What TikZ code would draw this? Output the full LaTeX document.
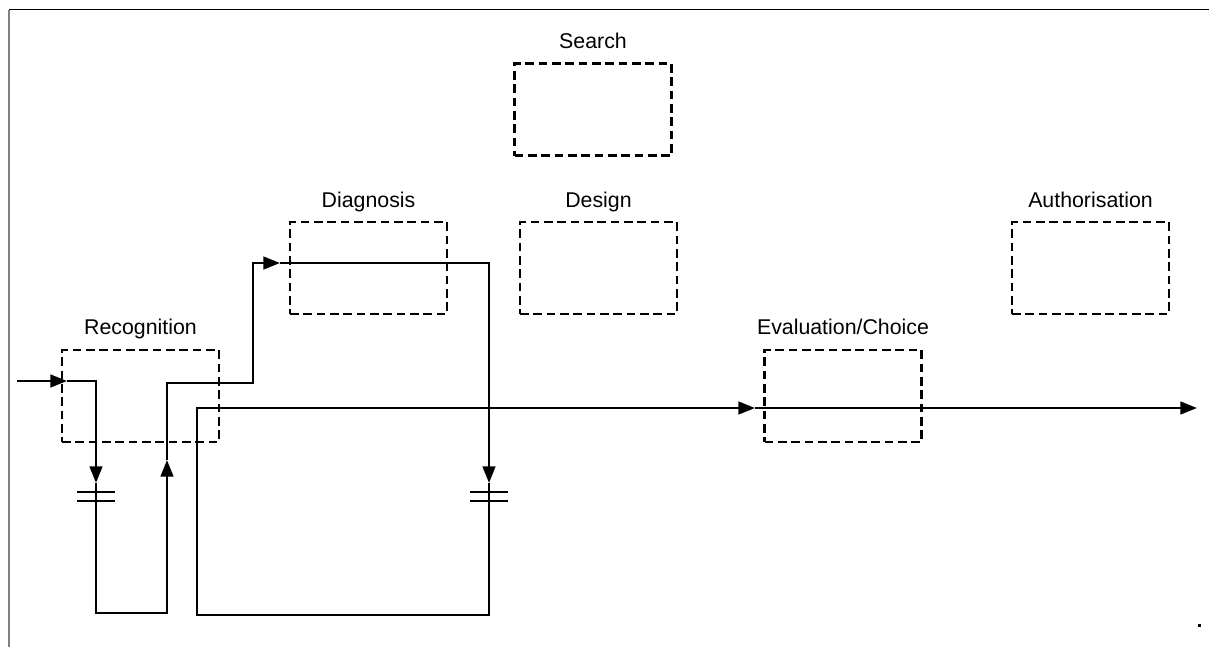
\documentclass[tikz,border=0pt]{standalone}
\usepackage{fontspec}
\setmainfont{Liberation Sans}
\usetikzlibrary{arrows.meta}

\tikzset{every picture/.style={line width=1.9pt}}
\tikzset{
  stage/.style={draw, dash pattern=on 6.5pt off 3.5pt, minimum width=117.75pt, minimum height=69pt, inner sep=0pt},
  stagelab/.style={anchor=base, inner sep=0pt, font=\fontsize{16}{19}\selectfont},
  flow/.style={-{Triangle[length=12.5pt,width=9.5pt]}}
}

\begin{document}
\begin{tikzpicture}[x=0.75pt,y=0.75pt,yscale=-1,xscale=1]
\useasboundingbox (0,0) rectangle (1209,647);

%Frame
\draw [line width=1.1pt] (9,9.5) -- (1209,9.5) ;
\draw [line width=1.1pt, gray] (9,9.5) -- (9,647) ;

%Shape: stage boxes
\node [stage] (recog) at (140.5,396) {};
\node [stage] (diag) at (368.5,268) {};
\node [stage] (search) at (593,109.5) {};
\node [stage] (design) at (598.5,268) {};
\node [stage] (evalch) at (843,396) {};
\node [stage] (auth) at (1090.5,268) {};

% Text Node
\node [stagelab] (recoglab) at (140.5,334) {Recognition};
% Text Node
\node [stagelab] (diaglab) at (368.5,207) {Diagnosis};
% Text Node
\node [stagelab] (searchlab) at (593,48) {Search};
% Text Node
\node [stagelab] (designlab) at (598.5,207) {Design};
% Text Node
\node [stagelab] (evalchlab) at (843,334) {Evaluation/Choice};
% Text Node
\node [stagelab] (authlab) at (1090.5,207) {Authorisation};

%Route points
\coordinate (in) at (17,381);
\coordinate (a1) at (67,381);
\coordinate (a2) at (96,381);
\coordinate (a3) at (96,483);
\coordinate (a4) at (96,613);
\coordinate (a5) at (167,613);
\coordinate (a6) at (167,460);
\coordinate (a7) at (167,383);
\coordinate (a8) at (253,383);
\coordinate (a9) at (253,263);
\coordinate (b1) at (280,263);
\coordinate (b2) at (489,263);
\coordinate (b3) at (489,483);
\coordinate (b4) at (489,615);
\coordinate (b5) at (197,615);
\coordinate (b6) at (197,408);
\coordinate (b7) at (755,408);
\coordinate (out) at (1197,408);

%Straight Lines
\draw [flow] (in) -- (a1) ;
\draw [flow] (a1) -- (a2) -- (a3) ;
\draw [flow] (a3) -- (a4) -- (a5) -- (a6) ;
\draw [flow] (a6) -- (a7) -- (a8) -- (a9) -- (b1) ;
\draw [flow] (b1) -- (b2) -- (b3) ;
\draw [flow] (b3) -- (b4) -- (b5) -- (b6) -- (b7) ;
\draw [flow] (b7) -- (out) ;

%Delay marks
\foreach \x in {96,489} {
  \foreach \y in {492,501}
    \draw (\x-19,\y) -- (\x+19,\y) ;
}

\fill (1198,624) rectangle (1201,627) ;

\end{tikzpicture}
\end{document}
